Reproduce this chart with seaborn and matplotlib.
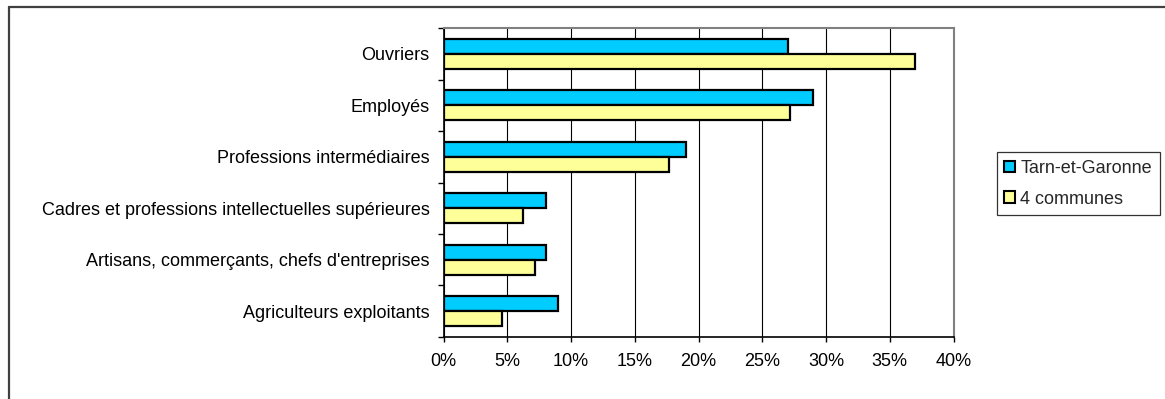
import matplotlib
matplotlib.use("Agg")
import matplotlib.pyplot as plt
from matplotlib.lines import Line2D
from matplotlib.patches import Patch
from matplotlib.ticker import FuncFormatter
import numpy as np
import pandas as pd
import seaborn as sns

# Socio-professional categories (top to bottom)
categories = [
    "Ouvriers",
    "Employés",
    "Professions intermédiaires",
    "Cadres et professions intellectuelles supérieures",
    "Artisans, commerçants, chefs d'entreprises",
    "Agriculteurs exploitants",
]
series_names = ["Tarn-et-Garonne", "4 communes"]
tarn_et_garonne = [27.0, 29.0, 19.0, 8.0, 8.0, 9.0]
quatre_communes = [37.0, 27.2, 17.7, 6.2, 7.2, 4.6]
x_ticks = [0, 5, 10, 15, 20, 25, 30, 35, 40]

colors = ["#00CCFF", "#FFFF99"]
FS = 13

df = pd.DataFrame({
    "categorie": categories * 2,
    "serie": [series_names[0]] * len(categories) + [series_names[1]] * len(categories),
    "valeur": tarn_et_garonne + quatre_communes,
})

sns.set_theme(style="white")
plt.rcParams["font.family"] = ["Liberation Sans", "DejaVu Sans"]

fig = plt.figure(figsize=(11.65, 3.99), dpi=100)
ax = fig.add_axes([0.3807, 0.1554, 0.4378, 0.7744])

sns.barplot(
    data=df, x="valeur", y="categorie", hue="serie", order=categories,
    hue_order=series_names, palette=colors, orient="h", width=0.58, gap=0,
    edgecolor="black", linewidth=1.6, saturation=1, legend=False, ax=ax,
)

n = len(categories)
ax.set_xlim(0, 40)
ax.set_ylim(n - 0.5, -0.5)
ax.set_xlabel("")
ax.set_ylabel("")

# x axis: percent ticks and vertical gridlines
ax.set_xticks(x_ticks)
ax.xaxis.set_major_formatter(FuncFormatter(lambda v, p: f"{v:.0f}%"))
ax.tick_params(axis="x", which="major", direction="out", length=3.5, width=1,
               color="black", pad=8, labelsize=FS, labelcolor="black", bottom=True)
ax.grid(axis="x", color="black", linewidth=0.8)
ax.set_axisbelow(True)

# y axis: tick marks between categories, labels centred on categories
ax.set_yticks(np.arange(-0.5, n, 1.0))
ax.set_yticklabels([])
ax.tick_params(axis="y", which="major", direction="out", length=4, width=1,
               color="black", left=True)
ax.set_yticks(np.arange(n), minor=True)
ax.set_yticklabels(categories, minor=True)
ax.tick_params(axis="y", which="minor", length=0, pad=10, labelsize=FS,
               labelcolor="black")

for side in ["left", "bottom"]:
    ax.spines[side].set_color("black")
    ax.spines[side].set_linewidth(1.2)
for side in ["top", "right"]:
    ax.spines[side].set_color("#808080")
    ax.spines[side].set_linewidth(1.5)

# Legend
handles = [Patch(facecolor=c, edgecolor="black", linewidth=1.5) for c in colors]
leg = fig.legend(
    handles, series_names, loc="upper left", bbox_to_anchor=(0.8555, 0.619),
    frameon=True, fancybox=False, fontsize=FS, handlelength=0.6,
    handleheight=0.6, handletextpad=0.3, borderpad=0.42, labelspacing=0.77,
    borderaxespad=0,
)
leg.get_frame().set_edgecolor("black")
leg.get_frame().set_linewidth(0.9)

# Chart area border (top and left edges)
fx0, fy0 = 8.5 / 1165, 1 - 6.5 / 399
fig.add_artist(Line2D([fx0, 1.0], [fy0, fy0], transform=fig.transFigure,
                      color="#404040", linewidth=1.6))
fig.add_artist(Line2D([fx0, fx0], [0.0, fy0], transform=fig.transFigure,
                      color="#404040", linewidth=1.6))

fig.savefig("out.png", dpi=100, facecolor="white")
